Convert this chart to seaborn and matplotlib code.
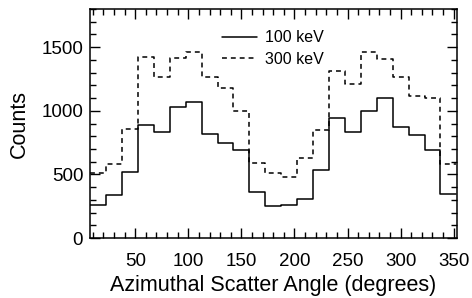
import numpy as np
import pandas as pd
import matplotlib
matplotlib.use("Agg")
import matplotlib.pyplot as plt
import seaborn as sns
from matplotlib.ticker import MultipleLocator

# bin centres (degrees), 15 degree bins
angles = [15, 30, 45, 60, 75, 90, 105, 120, 135, 150, 165, 180,
          195, 210, 225, 240, 255, 270, 285, 300, 315, 330, 345]
counts_100 = [258, 342, 518, 887, 837, 1032, 1066, 821, 745, 695, 362, 250,
              263, 310, 534, 942, 837, 1000, 1097, 876, 808, 689, 350]
counts_300 = [508, 579, 855, 1426, 1268, 1416, 1460, 1268, 1179, 995, 592, 513,
              479, 632, 847, 1311, 1210, 1460, 1408, 1263, 1118, 1100, 579]
bin_edges = [a - 7.5 for a in angles] + [angles[-1] + 7.5]

df = pd.DataFrame({"angle": angles, "c100": counts_100, "c300": counts_300})

sns.set_style("ticks")
plt.rcParams["font.family"] = ["Liberation Sans", "DejaVu Sans"]
plt.rcParams["text.color"] = "black"
plt.rcParams["axes.labelcolor"] = "black"
plt.rcParams["xtick.color"] = "black"
plt.rcParams["ytick.color"] = "black"

fig, ax = plt.subplots(figsize=(4.72, 2.98), dpi=100)
fig.subplots_adjust(left=0.191, right=0.968, top=0.97, bottom=0.201)

sns.histplot(data=df, x="angle", weights="c100", bins=bin_edges, element="step",
             fill=False, color="black", linewidth=1.1, ax=ax, label="100 keV")
sns.histplot(data=df, x="angle", weights="c300", bins=bin_edges, element="step",
             fill=False, color="black", linewidth=1.1, linestyle=(0, (3.2, 2.6)),
             ax=ax, label="300 keV")

ax.set_xlim(7.5, 353)
ax.set_ylim(0, 1800)
ax.xaxis.set_major_locator(MultipleLocator(50))
ax.xaxis.set_minor_locator(MultipleLocator(10))
ax.yaxis.set_major_locator(MultipleLocator(500))
ax.yaxis.set_minor_locator(MultipleLocator(100))
ax.tick_params(which="both", direction="in", top=True, right=True,
               labelsize=13.5, width=1, color="black")
ax.tick_params(which="major", length=7)
ax.tick_params(which="minor", length=4)
ax.tick_params(axis="x", which="major", pad=11)
ax.tick_params(axis="y", which="major", pad=5)
for s in ax.spines.values():
    s.set_linewidth(1.1)
    s.set_color("black")

ax.set_xlabel("Azimuthal Scatter Angle (degrees)", fontsize=15.5, labelpad=3)
ax.set_ylabel("Counts", fontsize=15.5, labelpad=8)

ax.legend(loc="upper left", bbox_to_anchor=(0.33, 0.955), frameon=False,
          fontsize=11.5, handlelength=2.2, handletextpad=0.45, labelspacing=0.4,
          borderpad=0.2)

fig.savefig("out.png", dpi=100)
